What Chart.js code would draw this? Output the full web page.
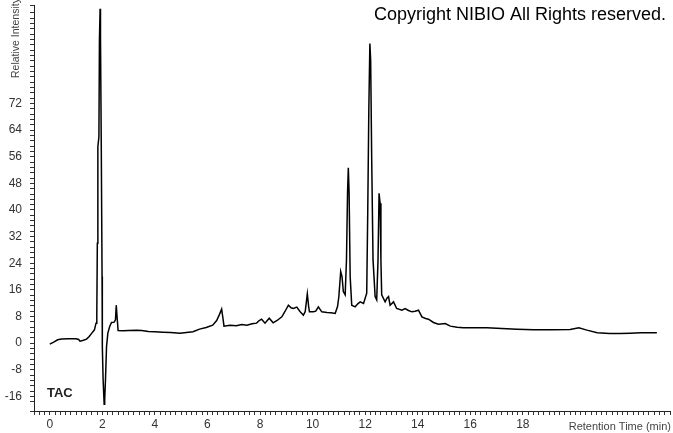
<!DOCTYPE html>
<html>
<head>
<meta charset="utf-8">
<script src="https://cdn.jsdelivr.net/npm/chart.js@4.4.1/dist/chart.umd.min.js"></script>
<style>
  html, body { margin: 0; padding: 0; background: #fff; }
  #wrap { width: 673px; height: 433px; position: relative; }
</style>
</head>
<body>
<div id="wrap"><canvas id="myChart"></canvas></div>
<script>
// retention time (min) and relative intensity
var times = [0.00, 0.15, 0.30, 0.45, 0.70, 1.00, 1.10, 1.15, 1.25, 1.40, 1.50, 1.60, 1.70, 1.76, 1.79,
    1.81, 1.83, 1.87, 1.89, 1.915, 1.93, 1.96, 1.99, 2.00, 2.03, 2.07, 2.09, 2.12, 2.16, 2.21, 2.28,
    2.35, 2.45, 2.50, 2.53, 2.56, 2.60, 2.80, 3.00, 3.30, 3.50, 3.75, 4.00, 4.30, 4.60, 4.95, 5.20,
    5.45, 5.70, 5.95, 6.20, 6.35, 6.45, 6.54, 6.58, 6.63, 6.86, 7.10, 7.30, 7.50, 7.70, 7.87, 7.97,
    8.06, 8.19, 8.35, 8.50, 8.65, 8.83, 8.95, 9.08, 9.18, 9.27, 9.40, 9.52, 9.65, 9.72, 9.80, 9.85,
    9.88, 10.03, 10.12, 10.22, 10.35, 10.55, 10.70, 10.86, 10.95, 11.00, 11.07, 11.12, 11.17, 11.24,
    11.29, 11.33, 11.36, 11.39, 11.43, 11.49, 11.62, 11.72, 11.81, 11.94, 12.06, 12.10, 12.14, 12.18,
    12.21, 12.25, 12.30, 12.38, 12.44, 12.49, 12.53, 12.57, 12.60, 12.63, 12.76, 12.83, 12.89, 12.95,
    13.08, 13.20, 13.40, 13.52, 13.65, 13.78, 13.90, 14.03, 14.16, 14.30, 14.41, 14.60, 14.79, 15.05,
    15.24, 15.50, 15.74, 16.20, 16.63, 17.20, 17.78, 18.41, 19.10, 19.80, 20.13, 20.44, 20.83, 21.30,
    21.70, 22.10, 22.48, 23.10];
var intensity = [-0.3, 0.3, 1.0, 1.2, 1.3, 1.3, 1.1, 0.6, 0.8, 1.2, 2.0, 3.0, 4.0, 6.0, 9.0,
    30, 59, 62, 91, 100.5, 92, 59, 20, -1, -11, -18.4, -17, -11, -1, 3, 5,
    6.2, 6.3, 7, 11.4, 8, 3.8, 3.7, 3.8, 3.9, 3.8, 3.5, 3.4, 3.3, 3.2, 3.0, 3.2,
    3.4, 4.2, 4.7, 5.4, 6.8, 8.5, 10.2, 8.0, 5.1, 5.4, 5.2, 5.6, 5.4, 5.8, 6.0, 6.8,
    7.2, 6.0, 7.5, 6.1, 6.8, 7.9, 9.5, 11.4, 10.6, 10.4, 10.8, 9.5, 8.4, 9.5, 14.8, 11,
    9.4, 9.4, 9.6, 10.9, 9.4, 9.2, 9.1, 8.9, 11, 14, 21.5, 20, 15.5, 14.5,
    25, 45, 52.7, 45, 20, 11.4, 10.9, 11.8, 12.4, 11.9, 15, 40, 70, 90,
    85, 55, 25, 14, 13, 25, 45, 42, 25, 14.5, 12.4, 13.5, 14, 11.4,
    12.4, 10.4, 9.9, 10.4, 9.8, 9.4, 9.6, 9.9, 7.9, 7.4, 7.2, 6.2, 5.7, 5.9,
    5.1, 4.8, 4.6, 4.6, 4.6, 4.4, 4.2, 4.0, 4.0, 4.1, 4.6, 3.9, 3.1, 2.9,
    2.9, 3.0, 3.1, 3.1];

// labelled ticks
var xTickLabels = [0, 2, 4, 6, 8, 10, 12, 14, 16, 18];
var yTickLabels = [-16, -8, 0, 8, 16, 24, 32, 40, 48, 56, 64, 72];

var points = times.map(function (t, i) { return { x: t, y: intensity[i] }; });

function isLabel(v, list) {
    for (var i = 0; i < list.length; i++) {
        if (Math.abs(v - list[i]) < 1e-6) return true;
    }
    return false;
}

var textPlugin = {
    id: 'textPlugin',
    afterDraw: function (chart) {
        var c = chart.ctx;
        c.save();
        c.fillStyle = '#000';
        c.font = '18px "Liberation Sans", Arial, sans-serif';
        c.textAlign = 'right';
        c.textBaseline = 'middle';
        c.fillText('Copyright NIBIO All Rights reserved.', 666, 15);

        c.fillStyle = '#222';
        c.font = 'bold 13px "Liberation Sans", Arial, sans-serif';
        c.textAlign = 'left';
        c.fillText('TAC', 47, 393);

        c.fillStyle = '#444';
        c.font = '11px "Liberation Sans", Arial, sans-serif';
        c.textAlign = 'right';
        c.fillText('Retention Time (min)', 671, 427);

        c.font = '10.5px "Liberation Sans", Arial, sans-serif';
        c.translate(16, 78);
        c.rotate(-Math.PI / 2);
        c.textAlign = 'left';
        c.fillText('Relative Intensity', 0, 0);
        c.restore();
    }
};

var ctx = document.getElementById('myChart').getContext('2d');
var myChart = new Chart(ctx, {
    type: 'scatter',
    data: {
        datasets: [{
            label: 'TAC',
            data: points,
            showLine: true,
            borderColor: '#000',
            borderWidth: 1.5,
            pointRadius: 0,
            tension: 0
        }]
    },
    options: {
        responsive: true,
        maintainAspectRatio: false,
        animation: false,
        layout: {
            padding: { left: 0, right: 3, top: 5, bottom: 0 }
        },
        scales: {
            x: {
                type: 'linear',
                min: -0.6,
                max: 23.6,
                afterFit: function (s) { s.height = 22; s.paddingLeft = 0; s.paddingRight = 0; },
                border: { color: '#222', width: 1 },
                grid: { drawOnChartArea: false, tickLength: 4, tickColor: '#333' },
                ticks: {
                    stepSize: 0.2,
                    autoSkip: false,
                    maxRotation: 0,
                    padding: 2,
                    color: '#333',
                    font: { family: '"Liberation Sans", Arial, sans-serif', size: 12 },
                    callback: function (v) { return isLabel(v, xTickLabels) ? Math.round(v) : ''; }
                }
            },
            y: {
                type: 'linear',
                min: -20.4,
                max: 101.6,
                afterFit: function (s) { s.width = 34; s.paddingTop = 0; s.paddingBottom = 0; },
                border: { color: '#222', width: 1 },
                grid: { drawOnChartArea: false, tickLength: 4, tickColor: '#333' },
                ticks: {
                    stepSize: 1.6,
                    autoSkip: false,
                    padding: 8,
                    color: '#333',
                    font: { family: '"Liberation Sans", Arial, sans-serif', size: 12 },
                    callback: function (v) { return isLabel(v, yTickLabels) ? Math.round(v) : ''; }
                }
            }
        },
        plugins: {
            legend: { display: false },
            title: { display: false },
            tooltip: { enabled: false }
        }
    },
    plugins: [textPlugin]
});
</script>
</body>
</html>
